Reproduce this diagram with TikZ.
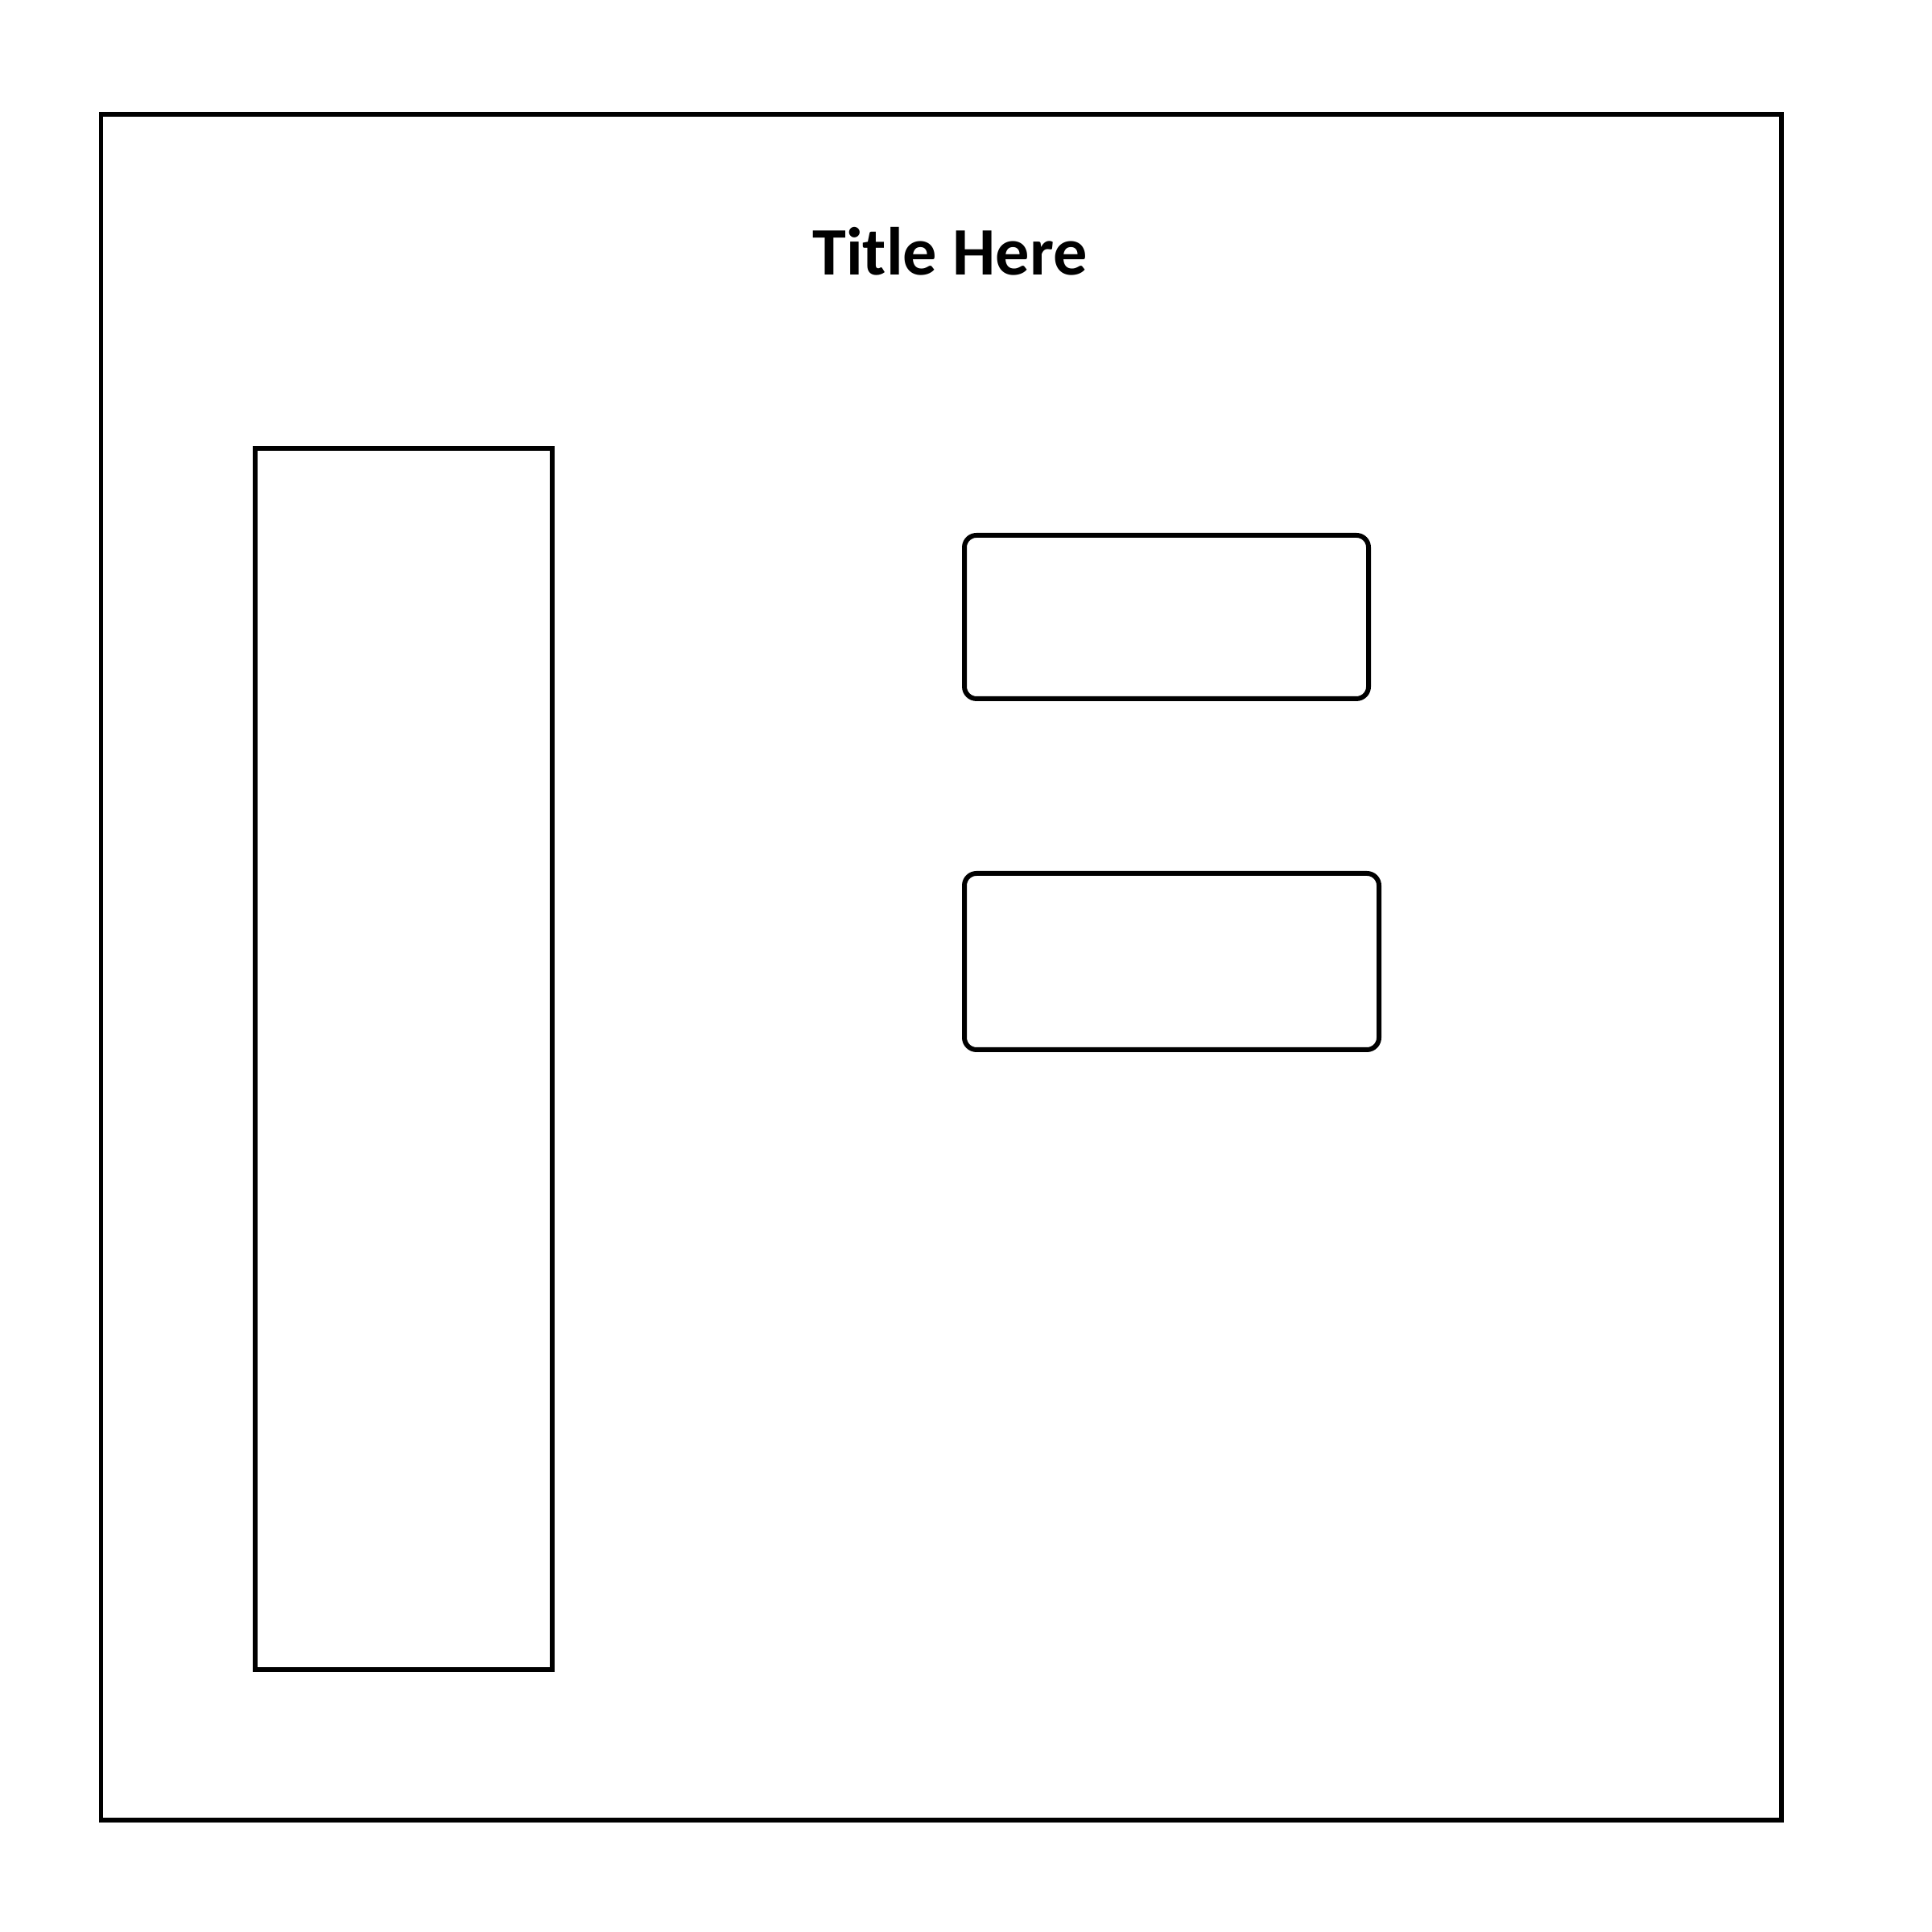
\documentclass[tikz,border=0pt]{standalone}
\usepackage{fontspec}
\setmainfont{Carlito}
\usepackage{tikz}
\usetikzlibrary{positioning}

\begin{document}
\begin{tikzpicture}[
  frame/.style={draw,line width=1.7pt},
  panel/.style={draw,line width=1.7pt,minimum width=3.69cm,minimum height=15.17cm,inner sep=0pt},
  slot/.style={draw,line width=1.7pt,rounded corners=1.5mm,inner sep=0pt},
  ttl/.style={font=\fontsize{24}{28}\selectfont\bfseries,inner sep=0pt,anchor=base}]
\useasboundingbox (0,0) rectangle (24,24);
\draw[frame] (1.255,1.393) rectangle (22.13,22.58);
\node[ttl] (title) at (11.8,20.58) {Title Here};
\node[panel] (side) at (5.015,10.845) {};
\node[slot,minimum width=5.02cm,minimum height=2.03cm] (upper) at (14.49,16.335) {};
\node[slot,minimum width=5.15cm,minimum height=2.19cm] (lower) at (14.555,12.055) {};
\end{tikzpicture}
\end{document}
